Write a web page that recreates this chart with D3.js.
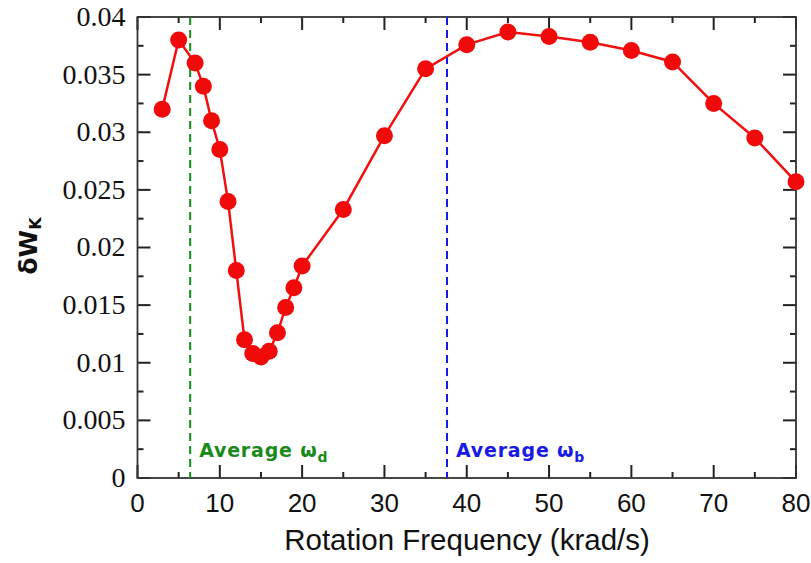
<!DOCTYPE html>
<html>
<head>
	<meta charset='utf-8' />
	<script src="https://d3js.org/d3.v7.min.js"></script>
	<style>
		body { margin: 0; background: white; }
		svg { display: block; }
	</style>
</head>
<body>
	<svg id="chart" width="811" height="563"></svg>
	<script>
		// rotation frequency (krad/s) and deltaW_K
		var freq = [3, 5, 7, 8, 9, 10, 11, 12, 13, 14, 15, 16, 17, 18, 19, 20, 25, 30, 35, 40, 45, 50, 55, 60, 65, 70, 75, 80]
		var dWk = [0.032, 0.038, 0.036, 0.034, 0.031, 0.0285, 0.024, 0.018, 0.012, 0.0108, 0.0105, 0.011, 0.0126, 0.0148, 0.0165, 0.0184,
			0.0233, 0.0297, 0.0355, 0.0376, 0.0387, 0.0383, 0.0378, 0.0371, 0.0361, 0.0325, 0.0295, 0.0257]
		var xTicks = [0, 10, 20, 30, 40, 50, 60, 70, 80]
		var yTicks = [0, 0.005, 0.01, 0.015, 0.02, 0.025, 0.03, 0.035, 0.04]
		var avgLines = [
			{ x: 6.4, color: "#1a8a1a", name: "Average ω", sub: "d" },
			{ x: 37.6, color: "#1a1ae6", name: "Average ω", sub: "b" }
		]

		var data = freq.map((f, i) => ({ f: f, v: dWk[i] }))

		var svg = d3.select("#chart"),
			margin = { top: 17, left: 137.5, bottom: 85, right: 15 },
			width = +svg.attr("width"),
			height = +svg.attr("height");

		var x = d3.scaleLinear().domain([0, 80]).range([margin.left, width - margin.right])
		var y = d3.scaleLinear().domain([0, 0.04]).range([height - margin.bottom, margin.top])

		var xMinor = d3.range(5, 80, 10)
		var yMinor = d3.range(0.0025, 0.04, 0.005)

		// tick labels
		svg.append("g").selectAll("text")
			.data(xTicks)
			.enter().append("text")
			.attr("x", d => x(d)).attr("y", y(0) + 34)
			.attr("text-anchor", "middle")
			.style("font-family", "Liberation Sans, Arial, sans-serif")
			.style("font-size", "26px")
			.attr("fill", "#111")
			.text(d => d)

		svg.append("g").selectAll("text")
			.data(yTicks)
			.enter().append("text")
			.attr("x", x(0) - 12).attr("y", d => y(d))
			.attr("dy", "0.32em")
			.attr("text-anchor", "end")
			.style("font-family", "Liberation Serif, Times New Roman, serif")
			.style("font-size", "28px")
			.attr("fill", "#111")
			.text(d => d === 0 ? "0" : String(+d.toFixed(3)))

		// ticks on all four sides, pointing inwards
		var xt = xTicks.map(v => ({ v: v, len: 13 })).concat(xMinor.map(v => ({ v: v, len: 6 })))
		var ytk = yTicks.map(v => ({ v: v, len: 13 })).concat(yMinor.map(v => ({ v: v, len: 6 })))

		function tickLines(list, x1, x2, y1, y2) {
			svg.append("g").selectAll("line")
				.data(list)
				.enter().append("line")
				.attr("x1", x1).attr("x2", x2)
				.attr("y1", y1).attr("y2", y2)
				.style("stroke", "#222")
				.style("stroke-width", "2px")
		}
		tickLines(xt, d => x(d.v), d => x(d.v), y(0), d => y(0) - d.len)
		tickLines(xt, d => x(d.v), d => x(d.v), y(0.04), d => y(0.04) + d.len)
		tickLines(ytk, x(0), d => x(0) + d.len, d => y(d.v), d => y(d.v))
		tickLines(ytk, x(80), d => x(80) - d.len, d => y(d.v), d => y(d.v))

		svg.append("rect")
			.attr("x", x(0)).attr("y", y(0.04))
			.attr("width", x(80) - x(0)).attr("height", y(0) - y(0.04))
			.attr("fill", "none").attr("stroke", "#333").attr("stroke-width", 1.8)

		// average lines
		avgLines.forEach(a => {
			svg.append("line")
				.attr("x1", x(a.x)).attr("x2", x(a.x))
				.attr("y1", y(0.04)).attr("y2", y(0))
				.attr("stroke", a.color).attr("stroke-width", 2)
				.attr("stroke-dasharray", "8,5")
			var t = svg.append("text")
				.attr("x", x(a.x) + 9).attr("y", y(0) - 21)
				.attr("fill", a.color)
				.style("font-family", "DejaVu Sans, sans-serif")
				.style("font-weight", "bold")
				.style("font-size", "19px")
				.style("letter-spacing", "0.8px")
				.text(a.name)
			t.append("tspan").attr("dy", 5).style("font-size", "14px").text(a.sub)
		})

		svg.append("path")
			.datum(data)
			.attr("fill", "none")
			.attr("stroke", "#f01010")
			.attr("stroke-width", 2.5)
			.attr("d", d3.line().x(d => x(d.f)).y(d => y(d.v)))

		svg.selectAll(".dot")
			.data(data)
			.enter().append("circle")
			.attr("class", "dot")
			.attr("cx", d => x(d.f))
			.attr("cy", d => y(d.v))
			.attr("r", 8.5)
			.attr("fill", "#f00a0a")

		svg.append("text")
			.attr("x", 467).attr("y", 550)
			.attr("text-anchor", "middle")
			.style("font-family", "Liberation Sans, Arial, sans-serif")
			.style("font-size", "29.5px")
			.attr("fill", "#111")
			.text("Rotation Frequency (krad/s)")

		var yt = svg.append("text")
			.attr("transform", `translate(37,${246}) rotate(-90)`)
			.attr("text-anchor", "middle")
			.style("font-family", "DejaVu Sans, sans-serif")
			.style("font-weight", "bold")
			.style("font-size", "25px")
			.attr("fill", "#111")
			.text("δW")
		yt.append("tspan").attr("dy", 4).style("font-size", "16px").text("K")
	</script>
</body>
</html>
